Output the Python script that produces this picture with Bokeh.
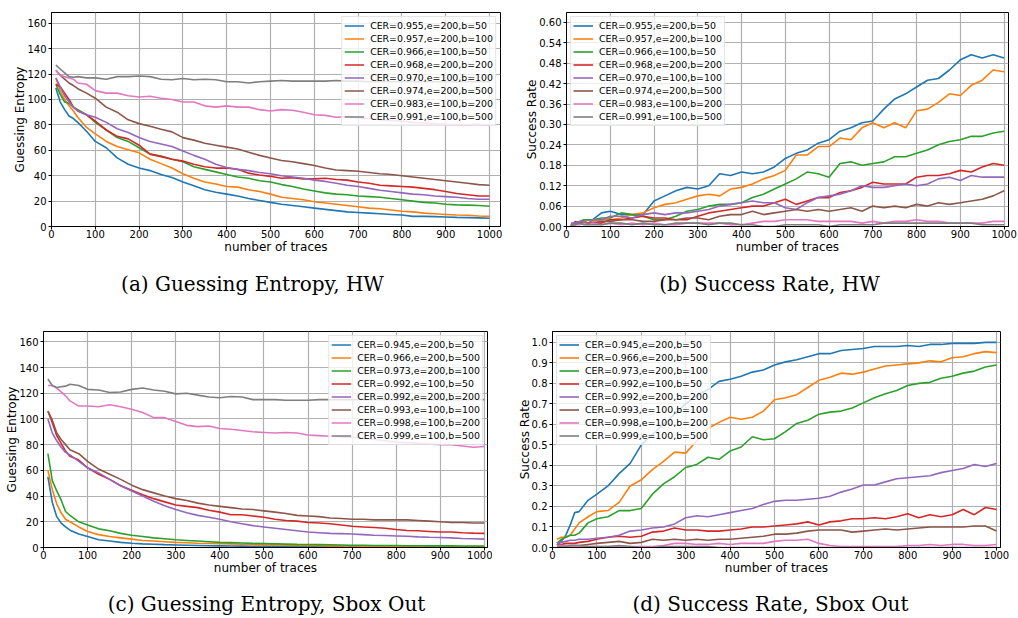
from bokeh.plotting import figure
from bokeh.layouts import column, row
from bokeh.models import FixedTicker, Range1d
from bokeh.core.properties import value
from bokeh.embed import file_html
from bokeh.resources import INLINE

# ---------------- data ----------------
X = [10, 20, 30, 40, 50, 60, 80, 100, 125, 150, 175, 200, 225, 250, 275, 300, 325, 350, 375, 400,
     425, 450, 475, 500, 525, 550, 575, 600, 625, 650, 675, 700, 725, 750, 775, 800, 825, 850,
     875, 900, 925, 950, 975, 1000]

COLORS = ["#1f77b4", "#ff7f0e", "#2ca02c", "#d62728", "#9467bd", "#8c564b", "#e377c2", "#7f7f7f"]

# (a) Guessing Entropy, HW
labels_hw = ["CER=0.955,e=200,b=50", "CER=0.957,e=200,b=100", "CER=0.966,e=100,b=50",
             "CER=0.968,e=200,b=200", "CER=0.970,e=100,b=100", "CER=0.974,e=200,b=500",
             "CER=0.983,e=100,b=200", "CER=0.991,e=100,b=500"]
ge_hw_1 = [109, 98, 92, 87, 85, 82, 75, 67, 62, 54, 49, 46, 44, 41, 38.5, 35, 32, 29, 27, 25.5, 24, 22, 20.5, 19,
           17.5, 16.5, 15.5, 14.5, 13.5, 12.5, 11.5, 11, 10.5, 10, 9.5, 9, 8, 8, 7.8, 7.5, 7.2, 7, 6.8, 6.5]
ge_hw_2 = [117, 107, 100, 95, 91, 86, 78, 73, 67, 63, 60.5, 58, 53, 49.5, 46, 41.5, 38, 35, 33.5, 31.5, 31, 29, 27.5,
           25.5, 23, 22, 21, 19.5, 18.5, 17.5, 16.5, 15.5, 14.5, 14, 13, 12, 11.5, 10.5, 10, 9.5, 9, 8.8, 8.3, 8]
ge_hw_3 = [112, 104, 98, 97, 94, 92, 88, 82, 76, 70, 67, 62, 57, 55.5, 53, 51, 47, 45, 43, 41, 39, 38, 36, 35, 33,
           31.5, 29.5, 28, 26.5, 25.5, 25, 24, 23.5, 23, 22, 21, 20, 19, 18.5, 17.5, 17, 16.8, 16.5, 16]
ge_hw_4 = [112, 110, 105, 100, 94, 91, 88, 83, 76, 71, 69, 64, 57, 55, 53, 51.5, 49, 47, 46, 46, 45, 42, 40.5, 39.5,
           38, 38.5, 37.5, 37.5, 38, 37, 36.5, 35, 34, 32.5, 32, 31.5, 31, 30, 29, 27.5, 26, 25, 24, 24]
ge_hw_5 = [117, 110, 103, 98, 94, 91, 88, 86, 82, 77, 74, 70, 67, 65, 63, 59.5, 56, 53, 49, 46.5, 45, 44, 42.5, 41.5,
           40, 39, 38, 36.5, 35.5, 34, 32.5, 31.5, 30, 28.5, 27.5, 26.5, 25.5, 25, 24, 23.5, 23, 22, 21.5, 21.5]
ge_hw_6 = [123, 119, 116, 113, 111, 108.5, 105, 101, 94, 90, 84, 81, 79, 76.5, 74.5, 70, 68, 65.5, 64, 62.5, 61,
           58.5, 56, 54, 52, 51, 49.5, 48, 46, 44.5, 44, 43.5, 42.5, 41.5, 41, 40, 39, 38, 37, 36, 35, 34, 33, 32.5]
ge_hw_7 = [123, 119, 118, 117, 116, 113, 112, 107, 105, 105, 103, 102, 102.5, 101, 100, 98, 98, 95, 94, 95, 94, 94,
           92, 91, 92, 91.5, 90, 88, 87.5, 86, 86.5, 85.5, 85, 84, 83.5, 83, 82, 81.5, 81, 80.5, 80, 80, 80.5, 79.5]
ge_hw_8 = [127, 124, 121, 118, 117.5, 118, 117, 117, 116, 118, 118, 118.5, 118, 116, 115.5, 116.5, 115.5, 116,
           115.5, 114, 114, 113, 114, 114.5, 115, 114.5, 114.5, 114.5, 114.5, 115, 114.5, 114.5, 114, 114, 114,
           114, 114, 114, 114, 114, 114, 114, 114, 114]

# (b) Success Rate, HW
sr_hw_1 = [0, 0.01, 0.01, 0.02, 0.02, 0.02, 0.04, 0.045, 0.035, 0.035, 0.035, 0.075, 0.09, 0.105, 0.115, 0.11,
           0.12, 0.155, 0.15, 0.16, 0.155, 0.16, 0.175, 0.2, 0.215, 0.225, 0.245, 0.255, 0.28, 0.29, 0.305, 0.31,
           0.345, 0.375, 0.39, 0.41, 0.43, 0.435, 0.46, 0.49, 0.505, 0.495, 0.505, 0.495]
sr_hw_2 = [0.005, 0.01, 0.01, 0.015, 0.02, 0.015, 0.02, 0.02, 0.025, 0.035, 0.04, 0.055, 0.065, 0.07, 0.08, 0.09,
           0.095, 0.09, 0.11, 0.115, 0.125, 0.14, 0.15, 0.165, 0.21, 0.21, 0.235, 0.235, 0.26, 0.255, 0.29, 0.305,
           0.29, 0.305, 0.29, 0.34, 0.345, 0.365, 0.39, 0.385, 0.415, 0.43, 0.46, 0.455]
sr_hw_3 = [0.005, 0.01, 0.015, 0.02, 0.02, 0.02, 0.025, 0.025, 0.04, 0.035, 0.03, 0.02, 0.02, 0.03, 0.045, 0.05,
           0.06, 0.065, 0.065, 0.07, 0.085, 0.095, 0.11, 0.125, 0.14, 0.16, 0.155, 0.145, 0.185, 0.19, 0.18, 0.185,
           0.19, 0.205, 0.205, 0.215, 0.225, 0.24, 0.25, 0.255, 0.265, 0.265, 0.275, 0.28]
sr_hw_4 = [0, 0.015, 0.01, 0.01, 0.01, 0.01, 0.01, 0.02, 0.02, 0.025, 0.03, 0.025, 0.025, 0.02, 0.02, 0.03, 0.04,
           0.045, 0.05, 0.055, 0.06, 0.06, 0.07, 0.08, 0.065, 0.075, 0.085, 0.085, 0.1, 0.105, 0.115, 0.13, 0.125,
           0.125, 0.125, 0.145, 0.15, 0.15, 0.155, 0.165, 0.16, 0.175, 0.185, 0.18]
sr_hw_5 = [0.01, 0.01, 0.015, 0.015, 0.01, 0.02, 0.02, 0.03, 0.03, 0.025, 0.035, 0.04, 0.035, 0.04, 0.04, 0.045,
           0.05, 0.06, 0.065, 0.07, 0.075, 0.07, 0.07, 0.055, 0.05, 0.07, 0.085, 0.09, 0.095, 0.105, 0.12, 0.115,
           0.115, 0.12, 0.125, 0.12, 0.125, 0.14, 0.145, 0.135, 0.15, 0.145, 0.145, 0.145]
sr_hw_6 = [0.005, 0.005, 0.01, 0.01, 0.01, 0.01, 0.015, 0.015, 0.02, 0.02, 0.015, 0.015, 0.02, 0.02, 0.025, 0.025,
           0.02, 0.03, 0.035, 0.035, 0.045, 0.035, 0.04, 0.045, 0.05, 0.045, 0.05, 0.045, 0.05, 0.055, 0.045, 0.06,
           0.055, 0.06, 0.055, 0.065, 0.06, 0.07, 0.065, 0.07, 0.075, 0.08, 0.09, 0.105]
sr_hw_7 = [0.005, 0.005, 0.005, 0.01, 0.005, 0.01, 0.005, 0.01, 0.005, 0.01, 0.005, 0.01, 0.005, 0.005, 0.01, 0.01,
           0.01, 0.01, 0.005, 0.005, 0.01, 0.015, 0.015, 0.02, 0.02, 0.02, 0.015, 0.015, 0.015, 0.015, 0.01, 0.015,
           0.01, 0.015, 0.015, 0.02, 0.015, 0.015, 0.01, 0.01, 0.01, 0.01, 0.015, 0.015]
sr_hw_8 = [0.005, 0.005, 0.01, 0.005, 0.005, 0.005, 0.005, 0.01, 0.01, 0.005, 0.01, 0.005, 0.005, 0.01, 0.01, 0.01,
           0.005, 0.01, 0.01, 0.005, 0.005, 0.0, 0.0, 0.005, 0.005, 0.005, 0.005, 0.0, 0.005, 0.005, 0.005, 0.005,
           0.01, 0.01, 0.01, 0.01, 0.01, 0.01, 0.01, 0.01, 0.01, 0.005, 0.005, 0.005]

# (c) Guessing Entropy, Sbox Out
labels_sb = ["CER=0.945,e=200,b=50", "CER=0.966,e=200,b=500", "CER=0.973,e=200,b=100",
             "CER=0.992,e=100,b=50", "CER=0.992,e=200,b=200", "CER=0.993,e=100,b=100",
             "CER=0.998,e=100,b=200", "CER=0.999,e=100,b=500"]
ge_sb_1 = [55, 35, 24, 19, 16, 13.5, 10.5, 8.5, 6, 5, 4, 3.3, 2.8, 2.5, 2.2, 2, 1.8, 1.6, 1.4, 1.3, 1.2, 1.1, 1, 1,
           0.9, 0.8, 0.8, 0.7, 0.7, 0.6, 0.6, 0.6, 0.5, 0.5, 0.5, 0.5, 0.5, 0.4, 0.4, 0.4, 0.4, 0.4, 0.4, 0.4]
ge_sb_2 = [60, 45, 34, 27, 22, 20, 16, 12.5, 10, 8.5, 7.5, 6.5, 5.5, 5, 4.5, 4, 3.7, 3.3, 3.1, 3, 2.8, 2.5, 2.3, 2,
           1.9, 1.8, 1.6, 1.5, 1.4, 1.3, 1.3, 1.2, 1.1, 1.1, 1, 1, 1, 0.9, 0.9, 0.9, 0.8, 0.8, 0.8, 0.8]
ge_sb_3 = [73, 52, 44, 37, 28, 25, 20, 17.5, 14.5, 13, 11, 9.5, 8.5, 7.5, 6.8, 6, 5.5, 5, 4.5, 4, 3.8, 3.5, 3.2, 3,
           2.8, 2.6, 2.4, 2.3, 2.2, 2.1, 2, 1.8, 1.7, 1.6, 1.6, 1.5, 1.4, 1.4, 1.3, 1.3, 1.3, 1.2, 1.2, 1.2]
ge_sb_4 = [106, 97, 87, 81, 75, 71, 68, 62, 57, 53, 48, 44.5, 41, 38, 35.5, 33, 32, 31, 29, 27.5, 25.5, 25.5, 24.5,
           23.5, 22, 21, 20.5, 19.5, 19, 18.5, 17.5, 16.5, 16, 15.5, 15, 14, 13.2, 13, 12.5, 12, 12, 11.5, 11.2, 11]
ge_sb_5 = [100, 89, 83, 78, 74, 72, 67, 62, 58, 53, 48, 44, 40, 36, 32.5, 29.5, 27, 25, 23.5, 22, 20, 18.5, 17, 16,
           15, 14, 13, 12, 11.5, 11, 10.8, 10.5, 10, 9.5, 9.3, 9, 8.7, 8.3, 8, 7.8, 7.5, 7, 6.8, 6.5]
ge_sb_6 = [106, 99, 89, 84, 80, 76, 73, 67, 61, 57, 53, 48.5, 45, 42.5, 40, 38, 36.5, 34.5, 33, 32, 31, 30, 29.5,
           28.5, 27.5, 26.5, 25, 24.5, 24, 23, 22.5, 22, 22, 21.5, 21.5, 21.5, 21.5, 21, 20.5, 20, 19.5, 19.5, 19, 19]
ge_sb_7 = [126, 126, 124, 121, 118, 114, 110, 110, 109.5, 111, 109.5, 107.5, 105, 101, 101, 98, 95, 94, 94.5, 92.5,
           92, 91, 90, 89.5, 89, 89.5, 89, 87.5, 87, 86.5, 86, 85.5, 85, 84, 83, 82, 81.5, 81, 80.5, 80, 80, 79, 78,
           78.5]
ge_sb_8 = [131, 126, 124.5, 125, 125.5, 127, 126, 123, 122.5, 120.5, 121, 123, 124, 122.5, 121.5, 119.5, 120,
           118.5, 117, 116.5, 117.5, 117, 115, 115, 115, 114.5, 114.5, 114.5, 115, 115, 115, 115, 115, 115, 115,
           115, 115, 115, 115, 115, 115, 115, 115, 115]

# (d) Success Rate, Sbox Out
sr_sb_1 = [0.01, 0.03, 0.06, 0.11, 0.17, 0.175, 0.23, 0.26, 0.3, 0.36, 0.41, 0.5, 0.55, 0.6, 0.65, 0.7, 0.74, 0.77,
           0.81, 0.82, 0.835, 0.855, 0.865, 0.89, 0.905, 0.915, 0.93, 0.945, 0.945, 0.96, 0.965, 0.97, 0.98, 0.98,
           0.98, 0.985, 0.98, 0.99, 0.99, 0.995, 0.995, 0.995, 1.0, 1.0]
sr_sb_2 = [0.04, 0.05, 0.05, 0.06, 0.09, 0.12, 0.15, 0.175, 0.18, 0.22, 0.3, 0.33, 0.38, 0.42, 0.465, 0.46, 0.52,
           0.58, 0.61, 0.635, 0.625, 0.635, 0.665, 0.72, 0.73, 0.745, 0.78, 0.815, 0.83, 0.85, 0.845, 0.855, 0.87,
           0.885, 0.89, 0.895, 0.9, 0.91, 0.905, 0.925, 0.93, 0.945, 0.955, 0.95]
sr_sb_3 = [0.02, 0.04, 0.05, 0.06, 0.06, 0.07, 0.12, 0.14, 0.15, 0.18, 0.18, 0.19, 0.26, 0.31, 0.345, 0.39, 0.405,
           0.44, 0.43, 0.47, 0.49, 0.54, 0.525, 0.53, 0.565, 0.605, 0.62, 0.65, 0.66, 0.665, 0.68, 0.705, 0.73,
           0.75, 0.765, 0.79, 0.8, 0.805, 0.825, 0.835, 0.85, 0.86, 0.88, 0.89]
sr_sb_4 = [0.01, 0.015, 0.02, 0.02, 0.02, 0.025, 0.03, 0.04, 0.05, 0.055, 0.05, 0.055, 0.075, 0.08, 0.095, 0.085,
           0.085, 0.08, 0.08, 0.085, 0.09, 0.1, 0.1, 0.105, 0.11, 0.115, 0.125, 0.11, 0.125, 0.13, 0.14, 0.14,
           0.145, 0.14, 0.15, 0.165, 0.145, 0.16, 0.15, 0.16, 0.185, 0.16, 0.195, 0.185]
sr_sb_5 = [0.02, 0.025, 0.03, 0.035, 0.035, 0.04, 0.04, 0.045, 0.05, 0.06, 0.08, 0.085, 0.095, 0.1, 0.115, 0.145,
           0.155, 0.15, 0.16, 0.17, 0.18, 0.19, 0.21, 0.225, 0.23, 0.23, 0.235, 0.24, 0.25, 0.27, 0.285, 0.305,
           0.305, 0.32, 0.335, 0.34, 0.345, 0.35, 0.365, 0.375, 0.385, 0.405, 0.395, 0.41]
sr_sb_6 = [0.01, 0.01, 0.01, 0.01, 0.01, 0.01, 0.015, 0.02, 0.025, 0.03, 0.02, 0.025, 0.04, 0.035, 0.04, 0.035,
           0.04, 0.035, 0.04, 0.04, 0.045, 0.05, 0.055, 0.065, 0.065, 0.07, 0.08, 0.085, 0.085, 0.085, 0.075, 0.08,
           0.085, 0.09, 0.085, 0.09, 0.095, 0.1, 0.1, 0.1, 0.1, 0.105, 0.105, 0.08]
sr_sb_7 = [0.01, 0.01, 0.01, 0.005, 0.005, 0.005, 0.005, 0.005, 0.005, 0.005, 0.005, 0.005, 0.005, 0.01, 0.02, 0.02,
           0.015, 0.015, 0.02, 0.015, 0.02, 0.02, 0.02, 0.03, 0.035, 0.035, 0.04, 0.02, 0.01, 0.005, 0.005, 0.005,
           0.005, 0.005, 0.005, 0.01, 0.01, 0.015, 0.01, 0.015, 0.015, 0.01, 0.01, 0.015]
sr_sb_8 = [0.005, 0.005, 0.005, 0.01, 0.01, 0.01, 0.005, 0.005, 0.005, 0.01, 0.005, 0.0, 0.0, 0.005, 0.005, 0.005,
           0.005, 0.005, 0.0, 0.0, 0.0, 0.0, 0.0, 0.0, 0.0, 0.0, 0.0, 0.0, 0.0, 0.0, 0.0, 0.0, 0.0, 0.0, 0.0, 0.0,
           0.0, 0.0, 0.0, 0.0, 0.0, 0.0, 0.0, 0.0]

x_ticks = [0, 100, 200, 300, 400, 500, 600, 700, 800, 900, 1000]
ge_ticks = [0, 20, 40, 60, 80, 100, 120, 140, 160]
sr_hw_ticks = [0.0, 0.06, 0.12, 0.18, 0.24, 0.30, 0.36, 0.42, 0.48, 0.54, 0.60]
sr_hw_tick_labels = ["0.00", "0.06", "0.12", "0.18", "0.24", "0.30", "0.36", "0.42", "0.48", "0.54", "0.60"]
sr_sb_ticks = [0.0, 0.1, 0.2, 0.3, 0.4, 0.5, 0.6, 0.7, 0.8, 0.9, 1.0]
sr_sb_tick_labels = ["0.0", "0.1", "0.2", "0.3", "0.4", "0.5", "0.6", "0.7", "0.8", "0.9", "1.0"]

captions = ["(a) Guessing Entropy, HW", "(b) Success Rate, HW",
            "(c) Guessing Entropy, Sbox Out", "(d) Success Rate, Sbox Out"]

FONT = "DejaVu Sans"


def make_plot(series, labels, x_end, y_end, yticks, ylabels, ylab, loc,
              width, height, bl, br, bt, bb):
    p = figure(width=width, height=height, output_backend="svg", toolbar_location=None,
               x_range=Range1d(0, x_end), y_range=Range1d(0, y_end))
    p.min_border_left = bl
    p.min_border_right = br
    p.min_border_top = bt
    p.min_border_bottom = bb
    p.background_fill_color = "white"
    p.border_fill_color = "white"
    p.outline_line_color = "black"
    p.outline_line_width = 1
    for s, lab, c in zip(series, labels, COLORS):
        p.line(X, s, line_color=c, line_width=1.6, legend_label=lab)
    p.xaxis.ticker = FixedTicker(ticks=x_ticks)
    p.yaxis.ticker = FixedTicker(ticks=yticks)
    if ylabels is not None:
        p.yaxis.major_label_overrides = {t: l for t, l in zip(yticks, ylabels)}
    for ax in (p.xaxis[0], p.yaxis[0]):
        ax.major_label_text_font = FONT
        ax.major_label_text_font_size = "10px"
        ax.major_label_text_color = "black"
        ax.axis_label_text_font = FONT
        ax.axis_label_text_font_size = "12px"
        ax.axis_label_text_font_style = "normal"
        ax.axis_label_text_color = "black"
        ax.major_tick_out = 3
        ax.major_tick_in = 0
        ax.minor_tick_line_color = None
        ax.axis_line_color = "black"
        ax.major_tick_line_color = "black"
    p.xaxis.major_label_standoff = 0
    p.yaxis.major_label_standoff = 2
    p.xaxis.axis_label = "number of traces"
    p.yaxis.axis_label = ylab
    p.xaxis.axis_label_standoff = -1
    p.yaxis.axis_label_standoff = -3
    p.grid.grid_line_color = "#b0b0b0"
    p.grid.grid_line_width = 1.2
    p.xgrid.ticker = FixedTicker(ticks=x_ticks)
    p.ygrid.ticker = FixedTicker(ticks=yticks)
    lg = p.legend[0]
    lg.location = loc
    lg.margin = 4
    lg.padding = 2
    lg.spacing = 0
    lg.label_height = 13
    lg.glyph_height = 13
    lg.glyph_width = 20
    lg.label_standoff = 6
    lg.label_text_font = FONT
    lg.label_text_font_size = "9.4px"
    lg.label_text_color = "black"
    lg.border_line_color = "#cccccc"
    lg.border_line_width = 1
    lg.background_fill_alpha = 0.8
    return p


def make_caption(text, width, height, cx, cy):
    c = figure(width=width, height=height, output_backend="svg", toolbar_location=None,
               x_range=Range1d(0, width), y_range=Range1d(0, height))
    c.min_border = 0
    c.axis.visible = False
    c.grid.visible = False
    c.outline_line_color = None
    c.text(x=[cx], y=[cy], text=[text], text_align="center", text_baseline="middle",
           text_font=value("DejaVu Serif"), text_font_size="20px", text_color="black")
    return c


pa = make_plot([ge_hw_1, ge_hw_2, ge_hw_3, ge_hw_4, ge_hw_5, ge_hw_6, ge_hw_7, ge_hw_8], labels_hw,
               1025, 168.5, ge_ticks, None, "Guessing Entropy", "top_right",
               505, 260, 51, 5, 6, 34)
pb = make_plot([sr_hw_1, sr_hw_2, sr_hw_3, sr_hw_4, sr_hw_5, sr_hw_6, sr_hw_7, sr_hw_8], labels_hw,
               1010, 0.629, sr_hw_ticks, sr_hw_tick_labels, "Success Rate", "top_left",
               513, 260, 61, 10, 12, 34)
pc = make_plot([ge_sb_1, ge_sb_2, ge_sb_3, ge_sb_4, ge_sb_5, ge_sb_6, ge_sb_7, ge_sb_8], labels_sb,
               1007, 168, ge_ticks, None, "Guessing Entropy", "top_right",
               492, 271, 43, 5, 21, 34)
pd_ = make_plot([sr_sb_1, sr_sb_2, sr_sb_3, sr_sb_4, sr_sb_5, sr_sb_6, sr_sb_7, sr_sb_8], labels_sb,
                1009, 1.053, sr_sb_ticks, sr_sb_tick_labels, "Success Rate", "top_left",
                526, 271, 60, 18, 18, 34)

ca = make_caption(captions[0], 505, 50, 252, 27)
cb = make_caption(captions[1], 513, 50, 264, 27)
cc = make_caption(captions[2], 492, 37, 266, 15)
cd = make_caption(captions[3], 526, 37, 278, 15)

layout = column(row(pa, pb, spacing=0), row(ca, cb, spacing=0),
                row(pc, pd_, spacing=0), row(cc, cd, spacing=0), spacing=0)

open("out.html", "w").write(file_html(layout, INLINE))
